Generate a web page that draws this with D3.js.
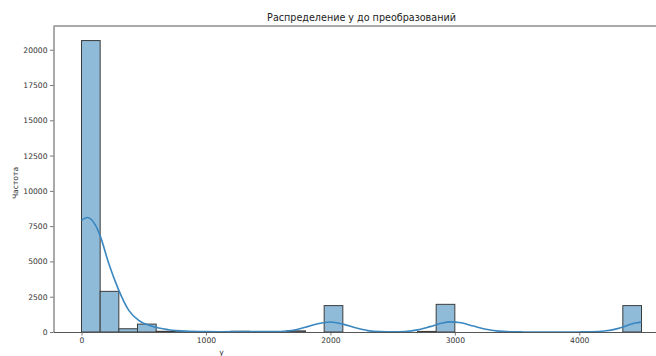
<!DOCTYPE html>
<html>
<head>
<meta charset="utf-8">
<script src="https://cdn.jsdelivr.net/npm/d3@7"></script>
<style>
  html, body { margin: 0; padding: 0; background: #fff; }
  svg { display: block; font-family: "DejaVu Sans", sans-serif; }
</style>
</head>
<body>
<svg id="chart" width="656" height="356"></svg>
<script>
// Histogram bins of y: 30 bins, 150 wide, from 0 to 4500
const binStart = 0;
const binWidth = 150;
const binCounts = [
  20650, 2880, 230, 560, 50, 20, 10, 10, 50, 20,
  10, 80, 0, 1870, 0, 0, 0, 0, 40, 1960,
  0, 0, 0, 0, 0, 0, 0, 0, 0, 1870
];

// Kernel density estimate, scaled to counts
const kdeX = [0, 46, 112, 153, 219, 300, 380, 460, 568, 700, 835, 1000, 1100, 1300, 1500, 1600, 1700,
  1800, 1900, 2000, 2100, 2200, 2300, 2400, 2500, 2600, 2700, 2800, 2900, 2960, 3050, 3150,
  3250, 3350, 3450, 3550, 3700, 3900, 4000, 4100, 4200, 4300, 4350, 4400, 4450, 4500];
const kdeY = [7900, 8110, 7570, 6740, 4850, 2950, 1530, 820, 400, 160, 60, 25, 20, 30, 25, 40, 120,
  340, 590, 710, 560, 300, 100, 25, 10, 40, 150, 380, 640, 720, 650, 420,
  190, 60, 15, 5, 0, 0, 5, 15, 70, 220, 350, 520, 640, 700];

// Axis ticks
const xTicks = [0, 1000, 2000, 3000, 4000];
const yTicks = [0, 2500, 5000, 7500, 10000, 12500, 15000, 17500, 20000];

const titleText = "Распределение y до преобразований";
const xLabel = "y";
const yLabel = "Частота";

const svg = d3.select("#chart");
const plot = { left: 53.5, top: 26, right: 669.5, bottom: 332 };

const x = d3.scaleLinear().domain([-225, 4725]).range([plot.left, plot.right]);
const y = d3.scaleLinear().domain([0, 21682]).range([plot.bottom, plot.top]);

const bins = binCounts.map((c, i) => ({ x0: binStart + i * binWidth, x1: binStart + (i + 1) * binWidth, c }));

// bars
svg.append("g")
  .selectAll("rect")
  .data(bins)
  .join("rect")
  .attr("x", d => x(d.x0))
  .attr("y", d => y(d.c))
  .attr("width", d => x(d.x1) - x(d.x0))
  .attr("height", d => y(0) - y(d.c))
  .attr("fill", "#8fbbd9")
  .attr("stroke", "#3c3c3c")
  .attr("stroke-width", 1);

// density curve
const line = d3.line()
  .x(d => x(d[0]))
  .y(d => y(d[1]))
  .curve(d3.curveMonotoneX);

svg.append("path")
  .datum(kdeX.map((v, i) => [v, kdeY[i]]))
  .attr("d", line)
  .attr("fill", "none")
  .attr("stroke", "#3a87c0")
  .attr("stroke-width", 1.6);

// axes
const fmt = d3.format("d");
const xAxis = svg.append("g")
  .attr("transform", `translate(0,${plot.bottom})`)
  .call(d3.axisBottom(x).tickValues(xTicks).tickFormat(fmt).tickSize(3.5).tickPadding(2).tickSizeOuter(0));
const yAxis = svg.append("g")
  .attr("transform", `translate(${plot.left},0)`)
  .call(d3.axisLeft(y).tickValues(yTicks).tickFormat(fmt).tickSize(3.5).tickPadding(2.5).tickSizeOuter(0));

[xAxis, yAxis].forEach(g => {
  g.select(".domain").attr("stroke", "#555").attr("stroke-width", 1);
  g.selectAll(".tick line").attr("stroke", "#555").attr("stroke-width", 0.8);
  g.selectAll(".tick text")
    .attr("fill", "#333")
    .style("font-family", "DejaVu Sans, sans-serif")
    .style("font-size", "7.6px");
});

// top spine
svg.append("line")
  .attr("x1", plot.left).attr("x2", plot.right)
  .attr("y1", plot.top).attr("y2", plot.top)
  .attr("stroke", "#555").attr("stroke-width", 1);

// title
svg.append("text")
  .attr("x", (plot.left + plot.right) / 2)
  .attr("y", 21)
  .attr("text-anchor", "middle")
  .attr("fill", "#222")
  .style("font-size", "9.6px")
  .text(titleText);

// axis labels
svg.append("text")
  .attr("x", x(1125))
  .attr("y", 355)
  .attr("text-anchor", "middle")
  .attr("fill", "#333")
  .style("font-size", "7.6px")
  .text(xLabel);

svg.append("text")
  .attr("transform", `translate(18,${(plot.top + plot.bottom) / 2 + 4}) rotate(-90)`)
  .attr("text-anchor", "middle")
  .attr("fill", "#333")
  .style("font-size", "7.6px")
  .text(yLabel);
</script>
</body>
</html>
